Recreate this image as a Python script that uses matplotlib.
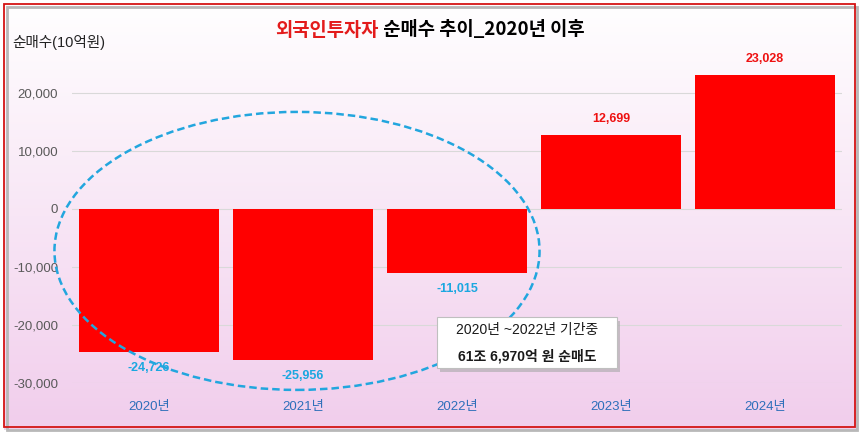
import numpy as np
import matplotlib.pyplot as plt
from matplotlib.patches import Ellipse, Rectangle

plt.rcParams['font.family'] = ['Liberation Sans', 'Noto Sans CJK KR']

# data (10억원)
years = ['2020년', '2021년', '2022년', '2023년', '2024년']
net_buy = [-24726, -25956, -11015, 12699, 23028]
yticks = [-30000, -20000, -10000, 0, 10000, 20000]

fig = plt.figure(figsize=(8.63, 4.33), dpi=100)
W, H = 863, 433

# background gradient white -> pink
bg = fig.add_axes([0, 0, 1, 1])
top = np.array([1.0, 1.0, 1.0])
bot = np.array([241, 205, 236]) / 255
t = np.linspace(0, 1, 256)[:, None]
grad = (top * (1 - t) + bot * t)[:, None, :]
bg.imshow(grad, aspect='auto', extent=[0, 1, 0, 1], origin='upper')
bg.set_xlim(0, 1)
bg.set_ylim(0, 1)
bg.axis('off')

# outer frame with shadow
bg.add_patch(Rectangle((7 / W, 1 - 430 / H), 850 / W, 423 / H, fc='none',
                       ec='#b8b8b8', lw=2, zorder=1))
bg.add_patch(Rectangle((4 / W, 1 - 427 / H), 851 / W, 423 / H, fc='none',
                       ec='#d41414', lw=1.3, zorder=2))
for r in [(0, 0, 4 / W, 1), (0, 0, 1, 3 / H), (0, 1 - 4 / H, 1, 4 / H), (1 - 5 / W, 0, 5 / W, 1)]:
    bg.add_patch(Rectangle(r[:2], r[2], r[3], fc='white', ec='none', zorder=0.5))

ax = fig.add_axes([72 / W, 1 - 383 / H, 770 / W, 325 / H])
ax.patch.set_alpha(0)
x = np.arange(len(years))
ax.bar(x, net_buy, width=0.91, color='#ff0000', zorder=3)
ax.set_xlim(-0.5, len(years) - 0.5)
ax.set_ylim(-30000, 26000)
ax.set_yticks(yticks)
ax.set_yticklabels([f'{v:,}' for v in yticks])
ax.set_xticks(x)
ax.set_xticklabels(years)
ax.grid(axis='y', color='#d9d9d9', lw=0.8, zorder=0)
for s in ax.spines.values():
    s.set_visible(False)
ax.tick_params(axis='y', length=0, pad=10, labelsize=9.5, labelcolor='#595959')
ax.tick_params(axis='x', length=0, pad=13, labelsize=9.5, labelcolor='#2e6fba')

for xi, v in zip(x, net_buy):
    if v >= 0:
        ax.annotate(f'{v:,}', (xi, v), xytext=(0, 11.5), textcoords='offset points',
                    ha='center', va='center', fontsize=9, fontweight='bold', color='#ee1111')
    else:
        ax.annotate(f'{v:,}', (xi, v), xytext=(0, -11.5), textcoords='offset points',
                    ha='center', va='center', fontsize=9, fontweight='bold', color='#1aa7e0')

# dashed ellipse around 2020-2022
ax.add_patch(Ellipse((0.961, -7240), 3.15, 47900, fill=False, ec='#22a6de',
                     lw=1.8, ls=(0, (3, 1.6)), zorder=4, clip_on=False))

# note box (on top of the chart)
fig.patches.append(Rectangle((440 / W, 1 - 372 / H), 180 / W, 51 / H, fc='#a8a8a8',
                             ec='none', alpha=0.6, zorder=5, transform=fig.transFigure))
fig.patches.append(Rectangle((437 / W, 1 - 368 / H), 180 / W, 51 / H, fc='white',
                             ec='#bfbfbf', lw=0.8, zorder=6, transform=fig.transFigure))
fig.text(527 / W, 1 - 330 / H, '2020년 ~2022년 기간중', ha='center', va='center',
         fontsize=10, color='#1a1a1a', zorder=7)
fig.text(527 / W, 1 - 356 / H, '61조 6,970억 원 순매도', ha='center', va='center',
         fontsize=10, fontweight='bold', color='#1a1a1a', zorder=7)

# title
tfont = dict(fontsize=13.5, fontweight='bold', va='center', family=['Noto Sans CJK KR'])
t1 = bg.text(0, 1 - 30 / H, '외국인투자자', color='#e31b1b', ha='left', **tfont)
t2 = bg.text(0, 1 - 30 / H, ' 순매수 추이_2020년 이후', color='black', ha='left', **tfont)
fig.canvas.draw()
r = fig.canvas.get_renderer()
w1 = t1.get_window_extent(r).width
w2 = t2.get_window_extent(r).width
x0 = (430 - (w1 + w2) / 2) / W
t1.set_x(x0)
t2.set_x(x0 + w1 / W)

bg.text(12 / W, 1 - 43 / H, '순매수(10억원)', ha='left', va='center', fontsize=10.5,
        color='#222222')

fig.savefig('out.png', dpi=100)
